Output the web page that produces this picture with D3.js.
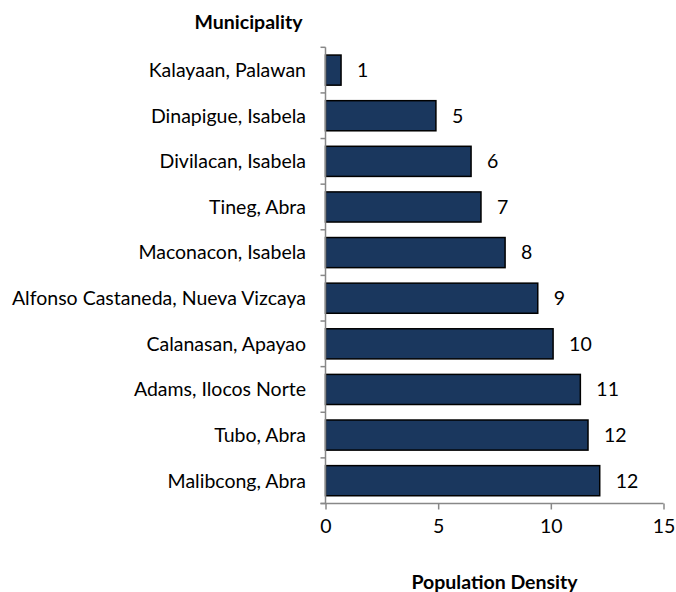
<!DOCTYPE html>
<html>
<head>
<meta charset="utf-8">
<script src="https://cdn.jsdelivr.net/npm/d3@7"></script>
<style>
  html, body { margin: 0; padding: 0; background: #fff; }
  svg { display: block; font-family: Lato, "Open Sans", sans-serif; }
</style>
</head>
<body>
<svg id="chart" width="676" height="592"></svg>
<script>
const municipalities = [
  "Kalayaan, Palawan",
  "Dinapigue, Isabela",
  "Divilacan, Isabela",
  "Tineg, Abra",
  "Maconacon, Isabela",
  "Alfonso Castaneda, Nueva Vizcaya",
  "Calanasan, Apayao",
  "Adams, Ilocos Norte",
  "Tubo, Abra",
  "Malibcong, Abra"
];
const density = [0.69, 4.9, 6.46, 6.9, 7.97, 9.42, 10.1, 11.31, 11.65, 12.17];
const xTicks = [0, 5, 10, 15];
const yTitle = "Municipality";
const xTitle = "Population Density";

(function () {
const svg = d3.select("#chart");
const plotLeft = 325.5, plotRight = 663.5, plotTop = 47.3, plotBottom = 503.5;
const fontSize = 19.5;

const x = d3.scaleLinear().domain([0, 15]).range([plotLeft, plotRight]);
const y = d3.scaleBand().domain(municipalities).range([plotTop, plotBottom])
  .paddingInner(0.34).paddingOuter(0.17);

const axisColor = "#888888";

// Bars
svg.append("g").selectAll("rect")
  .data(municipalities)
  .join("rect")
  .attr("x", x(0))
  .attr("y", d => y(d))
  .attr("width", (d, i) => x(density[i]) - x(0))
  .attr("height", y.bandwidth())
  .attr("fill", "#1a375e")
  .attr("stroke", "#000")
  .attr("stroke-width", 1.5);

// Value labels
svg.append("g").selectAll("text")
  .data(municipalities)
  .join("text")
  .attr("x", (d, i) => x(density[i]) + 16)
  .attr("y", d => y(d) + y.bandwidth() / 2)
  .attr("dy", "0.35em")
  .attr("font-size", fontSize)
  .attr("fill", "#000")
  .text((d, i) => d3.format(".0f")(density[i]));

// Y axis
const yAxis = svg.append("g");
yAxis.append("line")
  .attr("x1", plotLeft).attr("x2", plotLeft)
  .attr("y1", plotTop).attr("y2", plotBottom)
  .attr("stroke", axisColor).attr("stroke-width", 1.5);
const boundaries = municipalities.map(d => y(d) - y.step() * y.paddingInner() / 2);
boundaries.push(plotBottom);
yAxis.selectAll("line.tick")
  .data(boundaries)
  .join("line")
  .attr("class", "tick")
  .attr("x1", plotLeft - 5).attr("x2", plotLeft)
  .attr("y1", d => d).attr("y2", d => d)
  .attr("stroke", axisColor).attr("stroke-width", 1.5);
yAxis.selectAll("text")
  .data(municipalities)
  .join("text")
  .attr("x", 306)
  .attr("y", d => y(d) + y.bandwidth() / 2)
  .attr("dy", "0.35em")
  .attr("text-anchor", "end")
  .attr("font-size", fontSize)
  .attr("fill", "#000")
  .text(d => d);

// X axis
const xAxis = svg.append("g")
  .attr("transform", `translate(0,${plotBottom})`)
  .call(d3.axisBottom(x).tickValues(xTicks).tickSize(6).tickSizeOuter(0).tickPadding(10));
xAxis.select(".domain").remove();
xAxis.append("line")
  .attr("x1", plotLeft - 5).attr("x2", plotRight)
  .attr("y1", 0).attr("y2", 0)
  .attr("stroke", axisColor).attr("stroke-width", 1.5);
xAxis.selectAll(".tick line").attr("stroke", axisColor).attr("stroke-width", 1.5);
xAxis.selectAll(".tick text")
  .attr("font-size", fontSize)
  .attr("font-family", "Lato, 'Open Sans', sans-serif")
  .attr("fill", "#000");

// Titles
svg.append("text")
  .attr("x", 248.5).attr("y", 29)
  .attr("text-anchor", "middle")
  .attr("font-size", fontSize).attr("font-weight", "bold")
  .attr("fill", "#000")
  .text(yTitle);
svg.append("text")
  .attr("x", (plotLeft + plotRight) / 2).attr("y", 589)
  .attr("text-anchor", "middle")
  .attr("font-size", fontSize).attr("font-weight", "bold")
  .attr("fill", "#000")
  .text(xTitle);
})();
</script>
</body>
</html>
